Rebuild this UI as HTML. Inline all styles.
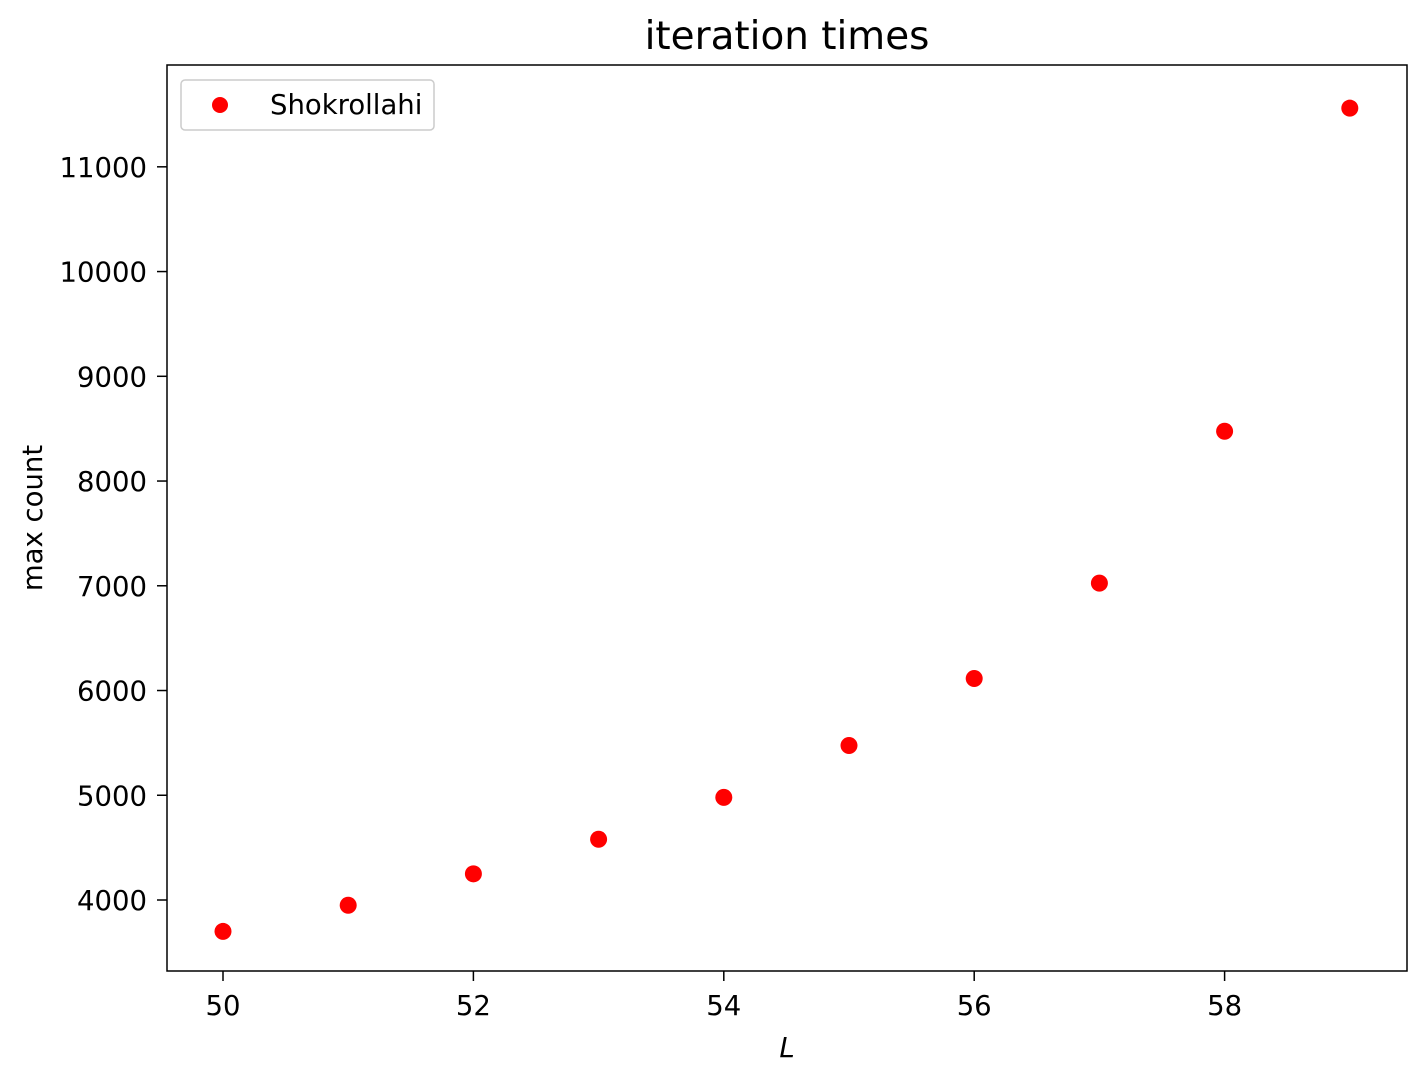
<!DOCTYPE html>
<html><head><meta charset="utf-8"><style>
body{margin:0;background:#fff;}
svg text{font-family:"DejaVu Sans","Liberation Sans",sans-serif;fill:#000;}
</style></head><body>
<svg id="chart" width="1426" height="1079" xmlns="http://www.w3.org/2000/svg">
<rect width="1426" height="1079" fill="#fff"/>
<text x="787" y="49" font-size="38.9" text-anchor="middle">iteration times</text>
<g id="xt"></g><g id="yt"></g><g id="pts"></g>
<rect x="167" y="65" width="1240" height="906" fill="none" stroke="#000" stroke-width="1.5"/>
<text x="787" y="1057" font-size="27.5" font-style="italic" text-anchor="middle">L</text>
<text transform="translate(42,518) rotate(-90)" font-size="27.5" text-anchor="middle">max count</text>
<g>
<rect x="181" y="80" width="253" height="50" rx="4" fill="#fff" stroke="#ccc" stroke-width="1.5"/>
<circle cx="220" cy="105" r="8" fill="#ff0000"/>
<text x="270" y="114" font-size="27.5">Shokrollahi</text>
</g>
</svg>
<script>
const xs=[50,51,52,53,54,55,56,57,58,59];
const ys=[3700,3950,4250,4580,4980,5475,6115,7025,8475,11560];
const xTicks=[50,52,54,56,58];
const yTicks=[4000,5000,6000,7000,8000,9000,10000,11000];
const X=v=>223+(v-50)*125.2;
const Y=v=>900-(v-4000)*0.10474;
const NS="http://www.w3.org/2000/svg";
function mk(t,a,p){const e=document.createElementNS(NS,t);for(const k in a)e.setAttribute(k,a[k]);p.appendChild(e);return e;}
const xt=document.getElementById('xt'),yt=document.getElementById('yt'),pts=document.getElementById('pts');
xTicks.forEach(v=>{
 const l=mk('line',{x1:X(v),x2:X(v),y1:971,y2:981,stroke:'#000','stroke-width':1.5},xt);
 
 
 const t=mk('text',{x:X(v),y:1015,'font-size':27.5,'text-anchor':'middle'},xt);t.textContent=v;
 
 
});
yTicks.forEach(v=>{
 const l=mk('line',{x1:157,x2:167,y1:Y(v),y2:Y(v),stroke:'#000','stroke-width':1.5},yt);
 
 
 const t=mk('text',{x:147,y:Y(v)+10,'font-size':27.5,'text-anchor':'end'},yt);t.textContent=v;
 
 
});
xs.forEach((v,i)=>{
 const c=mk('circle',{cx:X(v),cy:Y(ys[i]),r:8.5,fill:'#ff0000'},pts);
 
 
});
</script>
</body></html>
